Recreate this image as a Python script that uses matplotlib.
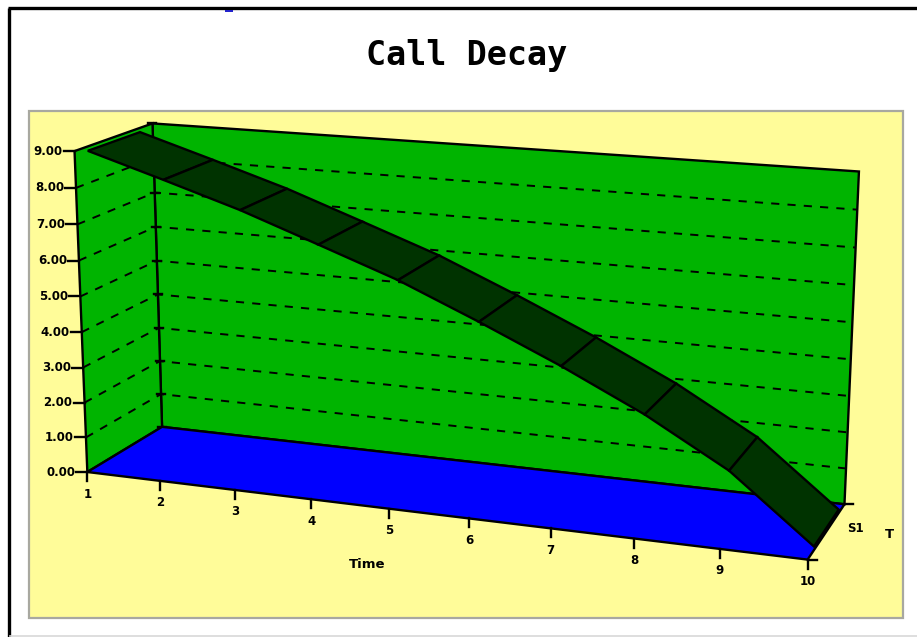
import numpy as np
import matplotlib
matplotlib.use("Agg")
import matplotlib.pyplot as plt
from matplotlib.patches import Polygon, Rectangle

title = "Call Decay"
time_labels = ["1", "2", "3", "4", "5", "6", "7", "8", "9", "10"]
times = [1, 2, 3, 4, 5, 6, 7, 8, 9, 10]
call_value = [8.88, 8.24, 7.58, 6.82, 6.05, 5.13, 4.16, 3.1, 1.85, 0.1]
value_ticks = [0, 1, 2, 3, 4, 5, 6, 7, 8, 9]
value_labels = ["0.00", "1.00", "2.00", "3.00", "4.00", "5.00", "6.00", "7.00", "8.00", "9.00"]
series_label = "S1"
x_label = "Time"
z_label = "T"

# Perspective camera, fitted to where the box corners sit in the picture.
anchors = [
    (1, 0, 0, 88, 472), (1, 0, 9, 75, 150), (1, 1, 0, 162, 427), (1, 1, 9, 152, 124),
    (10, 0, 0, 808, 559), (10, 1, 0, 845, 503), (10, 1, 9, 859, 172),
    (2, 0, 0, 160, 481), (3, 0, 0, 234, 490), (4, 0, 0, 312, 499), (5, 0, 0, 389, 509),
    (8, 0, 0, 634, 539), (9, 0, 0, 719, 550),
]
A, b = [], []
for t, s, v, px, py in anchors:
    A.append([t, s, v, 1, 0, 0, 0, 0, -px * t, -px * s, -px * v])
    b.append(px)
    A.append([0, 0, 0, 0, t, s, v, 1, -py * t, -py * s, -py * v])
    b.append(py)
h = np.linalg.lstsq(np.array(A, float), np.array(b, float), rcond=None)[0]
H = np.append(h, 1.0).reshape(3, 4)


def project(t, s, v):
    p = H @ np.array([t, s, v, 1.0])
    return p[0] / p[2], p[1] / p[2]


fig = plt.figure(figsize=(9.17, 6.37), dpi=100, facecolor="white")
ax = fig.add_axes([0, 0, 1, 1])
ax.set_xlim(0, 917)
ax.set_ylim(637, 0)
ax.axis("off")

YELLOW, WALL, FLOOR, RIBBON = "#FFFC99", "#00B400", "#0000FF", "#003300"
LW = 1.7

# page frame and chart area
ax.plot([9, 9], [637, 7.5], color="black", lw=2.4, zorder=1, solid_capstyle="butt")
ax.plot([8, 917], [7.5, 7.5], color="black", lw=2.4, zorder=1, solid_capstyle="butt")
ax.plot([10, 917], [635.5, 635.5], color="#D8D8D8", lw=1.2, zorder=1)
ax.add_patch(Rectangle((28.5, 111), 874.5, 507, fc=YELLOW, ec="#A8A8A0", lw=1.6, zorder=1))
ax.add_patch(Rectangle((225, 10), 8, 2, fc="#2222CC", ec="none", zorder=1))
ax.text(466.5, 56, title, family="DejaVu Sans Mono", weight="bold", fontsize=24,
        ha="center", va="center", color="black", zorder=10)

t0, t1 = times[0], times[-1]
vtop = value_ticks[-1]
back = [project(t0, 1, 0), project(t1, 1, 0), project(t1, 1, vtop), project(t0, 1, vtop)]
left = [project(t0, 0, 0), project(t0, 1, 0), project(t0, 1, vtop), project(t0, 0, vtop)]
floor = [project(t0, 0, 0), project(t1, 0, 0), project(t1, 1, 0), project(t0, 1, 0)]
for poly, col, z in [(back, WALL, 2), (left, WALL, 3), (floor, FLOOR, 4)]:
    ax.add_patch(Polygon(poly, closed=True, fc=col, ec="black", lw=LW, joinstyle="miter", zorder=z))

# dashed gridlines on both walls
for v in value_ticks[1:-1]:
    xs, ys = zip(project(t0, 0, v), project(t0, 1, v), project(t1, 1, v))
    ax.plot(xs, ys, color="black", lw=1.4, dashes=(4.2, 4.2), zorder=3.5)

# value ticks and labels
for v, lab in zip(value_ticks, value_labels):
    x, y = project(t0, 0, v)
    ax.plot([x - 11, x], [y, y], color="black", lw=LW, zorder=5)
    ax.text(x - 12, y, lab, ha="right", va="center", fontsize=8.5, weight="bold",
            family="DejaVu Sans", zorder=10)
    bx, by = project(t0, 1, v)
    ax.plot([bx - 4, bx + 4], [by, by], color="black", lw=LW, zorder=3.6)

# time ticks and labels
for t, lab in zip(times, time_labels):
    x, y = project(t, 0, 0)
    ax.plot([x, x], [y, y + 9], color="black", lw=LW, zorder=5)
    ax.text(x, y + 22, lab, ha="center", va="center", fontsize=8.5, weight="bold",
            family="DejaVu Sans", zorder=10)
xe, ye = project(t1, 0, 0)
ax.plot([xe, xe + 9], [ye, ye], color="black", lw=LW, zorder=5)
xb, yb = project(t1, 1, 0)
ax.plot([xb, xb + 9], [yb, yb], color="black", lw=LW, zorder=5)

ax.text(855, 528, series_label, ha="center", va="center", fontsize=8.5, weight="bold", zorder=10)
ax.text(889, 534, z_label, ha="center", va="center", fontsize=9.5, weight="bold", zorder=10)
ax.text(367, 565, x_label, ha="center", va="center", fontsize=9.5, weight="bold", zorder=10)

# the ribbon
S0, S1 = 0.16, 0.83
for i in range(len(times) - 1):
    a, c = times[i], times[i + 1]
    va, vc = call_value[i], call_value[i + 1]
    quad = [project(a, S0, va), project(c, S0, vc), project(c, S1, vc), project(a, S1, va)]
    ax.add_patch(Polygon(quad, closed=True, fc=RIBBON, ec="black", lw=LW, joinstyle="miter", zorder=6))

fig.savefig("out.png", dpi=100, facecolor="white")
